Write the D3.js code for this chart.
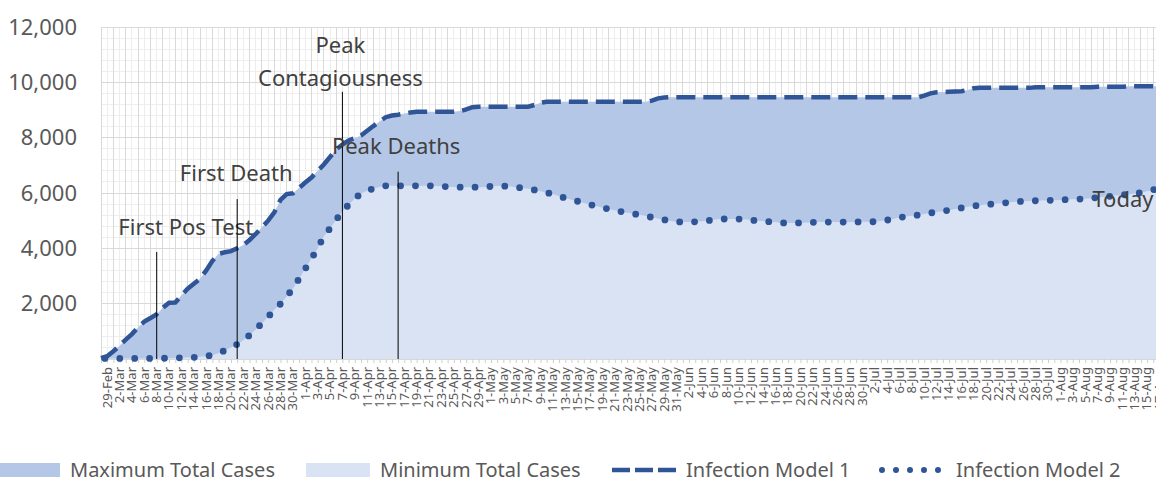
<!DOCTYPE html>
<html>
<head>
<meta charset="utf-8">
<title>Infection models</title>
<script src="https://cdnjs.cloudflare.com/ajax/libs/d3/7.8.5/d3.min.js"></script>
<style>
  body { margin: 0; background: #fff; }
  svg { display: block; font-family: 'Noto Sans', sans-serif; }
</style>
</head>
<body>
<svg id="chart" width="1156" height="483"></svg>
<script>
// categories: one per day, 29-Feb .. 18-Aug
const days = d3.timeDay.range(new Date(2020, 1, 29), new Date(2020, 7, 19));
const dayLabels = days.map(d3.timeFormat('%-d-%b'));

const yTicks = [2000, 4000, 6000, 8000, 10000, 12000];

// Infection Model 1 (also the top of "Maximum Total Cases")
const model1 = [
  30, 100, 280, 480, 700, 900, 1150, 1350, 1480, 1620,
  1850, 2035, 2040, 2300, 2540, 2720, 2900, 3200, 3550, 3800,
  3860, 3900, 4000, 4120, 4300, 4520, 4760, 5000, 5300, 5750,
  5960, 5990, 6180, 6380, 6560, 6800, 7030, 7300, 7580, 7750,
  7900, 7980, 8080, 8250, 8420, 8580, 8740, 8800, 8830, 8870,
  8910, 8940, 8940, 8940, 8940, 8940, 8940, 8940, 8960, 9020,
  9100, 9120, 9120, 9120, 9120, 9120, 9120, 9120, 9120, 9120,
  9180, 9260, 9300, 9300, 9300, 9300, 9300, 9300, 9300, 9300,
  9300, 9300, 9300, 9300, 9300, 9300, 9300, 9300, 9300, 9340,
  9420, 9450, 9460, 9460, 9460, 9460, 9460, 9460, 9460, 9460,
  9460, 9460, 9460, 9460, 9460, 9460, 9460, 9460, 9460, 9460,
  9460, 9460, 9460, 9460, 9460, 9460, 9460, 9460, 9460, 9460,
  9460, 9460, 9460, 9460, 9460, 9460, 9460, 9460, 9460, 9460,
  9460, 9460, 9460, 9520, 9600, 9640, 9650, 9660, 9670, 9680,
  9720, 9790, 9800, 9800, 9800, 9800, 9800, 9800, 9800, 9800,
  9800, 9820, 9820, 9820, 9820, 9820, 9820, 9820, 9820, 9820,
  9820, 9840, 9840, 9840, 9840, 9840, 9860, 9860, 9860, 9860,
  9860, 9860
];

// Infection Model 2 (also the top of "Minimum Total Cases")
const model2 = [
  20, 20, 20, 20, 20, 20, 20, 20, 20, 20,
  25, 30, 35, 45, 55, 60, 80, 105, 140, 210,
  310, 420, 530, 680, 860, 1070, 1290, 1520, 1780, 1990,
  2260, 2540, 2900, 3260, 3630, 3990, 4440, 4720, 5030, 5340,
  5570, 5800, 5980, 6080, 6160, 6220, 6260, 6260, 6260, 6260,
  6260, 6260, 6260, 6260, 6250, 6240, 6230, 6220, 6210, 6210,
  6210, 6210, 6210, 6240, 6250, 6250, 6240, 6210, 6180, 6150,
  6110, 6060, 6010, 5960, 5880, 5820, 5760, 5700, 5640, 5580,
  5530, 5470, 5420, 5380, 5330, 5290, 5250, 5210, 5170, 5120,
  5080, 5030, 4990, 4960, 4950, 4950, 4960, 4980, 5000, 5030,
  5060, 5060, 5060, 5060, 5050, 5020, 5000, 4980, 4960, 4940,
  4920, 4920, 4920, 4920, 4930, 4940, 4950, 4950, 4950, 4950,
  4950, 4950, 4950, 4960, 4960, 4960, 4990, 5020, 5060, 5110,
  5150, 5180, 5200, 5240, 5280, 5310, 5340, 5380, 5420, 5460,
  5500, 5530, 5560, 5580, 5600, 5620, 5640, 5670, 5690, 5700,
  5710, 5720, 5730, 5735, 5740, 5750, 5760, 5770, 5780, 5790,
  5810, 5840, 5860, 5880, 5910, 5930, 5950, 5980, 6010, 6060,
  6120, 6170
];

// event markers
const eventDays = ['9-Mar', '22-Mar', '8-Apr', '17-Apr', '18-Aug'];
const eventLabels = [['First Pos Test'], ['First Death'], ['Peak', 'Contagiousness'], ['Peak Deaths'], ['Today']];
const eventTops = [3870, 5780, 9660, 6770, 5260];

const legendNames = ['Maximum Total Cases', 'Minimum Total Cases', 'Infection Model 1', 'Infection Model 2'];

// ---- layout ----
const W = 1156, H = 483;
const plotLeft = 101, plotTop = 27, plotBottom = 359, step = 6.19;
const blue = '#2f5597', maxFill = '#b4c7e7', minFill = '#dae3f3';
// label placement for each event: anchor, x shift, gap above the line top
const eventLabelPos = [
  { anchor: 'middle', dx: 29, dy: -17 },
  { anchor: 'middle', dx: -1, dy: -18 },
  { anchor: 'middle', dx: -2, dy: -6 },
  { anchor: 'middle', dx: -2, dy: -18 },
  { anchor: 'end', dx: -6, dy: -6 }
];

const svg = d3.select('#chart');
const n = days.length;
const x = d3.scaleLinear().domain([0, n - 1]).range([plotLeft, plotLeft + (n - 1) * step]);
const y = d3.scaleLinear().domain([0, 12000]).range([plotBottom, plotTop]);

// gridlines
const grid = svg.append('g').attr('shape-rendering', 'crispEdges');
grid.selectAll('.hmin')
  .data(d3.range(400, 12001, 400).filter(v => v % 2000 !== 0))
  .enter().append('line')
  .attr('x1', plotLeft).attr('x2', W)
  .attr('y1', d => y(d)).attr('y2', d => y(d))
  .attr('stroke', '#eeeeee');
grid.selectAll('.vline')
  .data(d3.range(0, n))
  .enter().append('line')
  .attr('x1', d => x(d)).attr('x2', d => x(d))
  .attr('y1', y(12000)).attr('y2', y(0))
  .attr('stroke', d => d % 2 === 0 ? '#d9d9d9' : '#eeeeee');
grid.selectAll('.hmaj')
  .data(yTicks)
  .enter().append('line')
  .attr('x1', plotLeft).attr('x2', W)
  .attr('y1', d => y(d)).attr('y2', d => y(d))
  .attr('stroke', '#d9d9d9');

// areas
const area = d3.area().x((d, i) => x(i)).y0(y(0)).y1(d => y(d));
svg.append('path').datum(model1).attr('d', area).attr('fill', maxFill);
svg.append('path').datum(model2).attr('d', area).attr('fill', minFill);

// x axis
const xAxis = svg.append('g')
  .attr('transform', `translate(0,${plotBottom})`)
  .call(d3.axisBottom(x)
    .tickValues(d3.range(0, n))
    .tickSize(4)
    .tickSizeOuter(0)
    .tickFormat(i => i % 2 === 0 ? dayLabels[i] : ''));
xAxis.select('.domain').attr('stroke', '#d9d9d9');
xAxis.selectAll('.tick line').attr('stroke', '#cfcfcf');
xAxis.selectAll('.tick text')
  .attr('transform', 'rotate(-90)')
  .attr('text-anchor', 'end')
  .attr('x', -8)
  .attr('y', 5.5)
  .attr('dy', '0.35em')
  .attr('fill', '#595959')
  .style('font-size', '13px')
  .style('font-family', "'Noto Sans', sans-serif");

// y axis labels
const yAxis = svg.append('g')
  .attr('transform', `translate(${plotLeft},0)`)
  .call(d3.axisLeft(y).tickValues(yTicks).tickSize(0).tickPadding(24).tickFormat(d3.format(',')));
yAxis.select('.domain').remove();
yAxis.selectAll('text')
  .attr('fill', '#595959')
  .style('font-size', '22px')
  .style('font-family', "'Noto Sans', sans-serif");

// lines
const line = d3.line().x((d, i) => x(i)).y(d => y(d));
svg.append('path').datum(model1).attr('d', line)
  .attr('fill', 'none').attr('stroke', blue).attr('stroke-width', 4.5)
  .attr('stroke-dasharray', '19 8');
svg.append('path').datum(model2).attr('d', line)
  .attr('fill', 'none').attr('stroke', blue).attr('stroke-width', 6.8)
  .attr('stroke-linecap', 'round')
  .attr('stroke-dasharray', '0 14.9').attr('stroke-dashoffset', 11);

// events
const ev = svg.selectAll('.event')
  .data(eventDays.map((d, k) => ({ i: dayLabels.indexOf(d), top: eventTops[k], lines: eventLabels[k], pos: eventLabelPos[k] })))
  .enter().append('g').attr('class', 'event');
ev.append('line')
  .attr('x1', d => x(d.i)).attr('x2', d => x(d.i))
  .attr('y1', d => y(d.top)).attr('y2', y(0))
  .attr('stroke', '#000').attr('stroke-width', 1);
ev.append('text')
  .attr('text-anchor', d => d.pos.anchor)
  .attr('fill', '#404040')
  .style('font-size', '22px')
  .each(function (d) {
    const t = d3.select(this);
    const last = d.lines.length - 1;
    d.lines.forEach((s, j) => {
      t.append('tspan')
        .attr('x', x(d.i) + d.pos.dx)
        .attr('y', y(d.top) + d.pos.dy - (last - j) * 33)
        .text(s);
    });
  });

// legend
const legX = [-4, 306, 612, 882];
const legY = 470, symW = 64;
const leg = svg.append('g');
leg.append('rect').attr('x', legX[0]).attr('y', legY - 7).attr('width', symW).attr('height', 14).attr('fill', maxFill);
leg.append('rect').attr('x', legX[1]).attr('y', legY - 7).attr('width', symW).attr('height', 14).attr('fill', minFill);
leg.append('line').attr('x1', legX[2]).attr('x2', legX[2] + symW).attr('y1', legY).attr('y2', legY)
  .attr('stroke', blue).attr('stroke-width', 4.5).attr('stroke-dasharray', '18 5');
leg.append('line').attr('x1', legX[3]).attr('x2', legX[3] + 58).attr('y1', legY).attr('y2', legY)
  .attr('stroke', blue).attr('stroke-width', 6).attr('stroke-linecap', 'round').attr('stroke-dasharray', '0 14');
leg.selectAll('.legtext')
  .data(legendNames)
  .enter().append('text')
  .attr('x', (d, k) => legX[k] + symW + 10)
  .attr('y', legY)
  .attr('dy', '0.35em')
  .attr('fill', '#595959')
  .style('font-size', '20px')
  .text(d => d);
</script>
</body>
</html>
